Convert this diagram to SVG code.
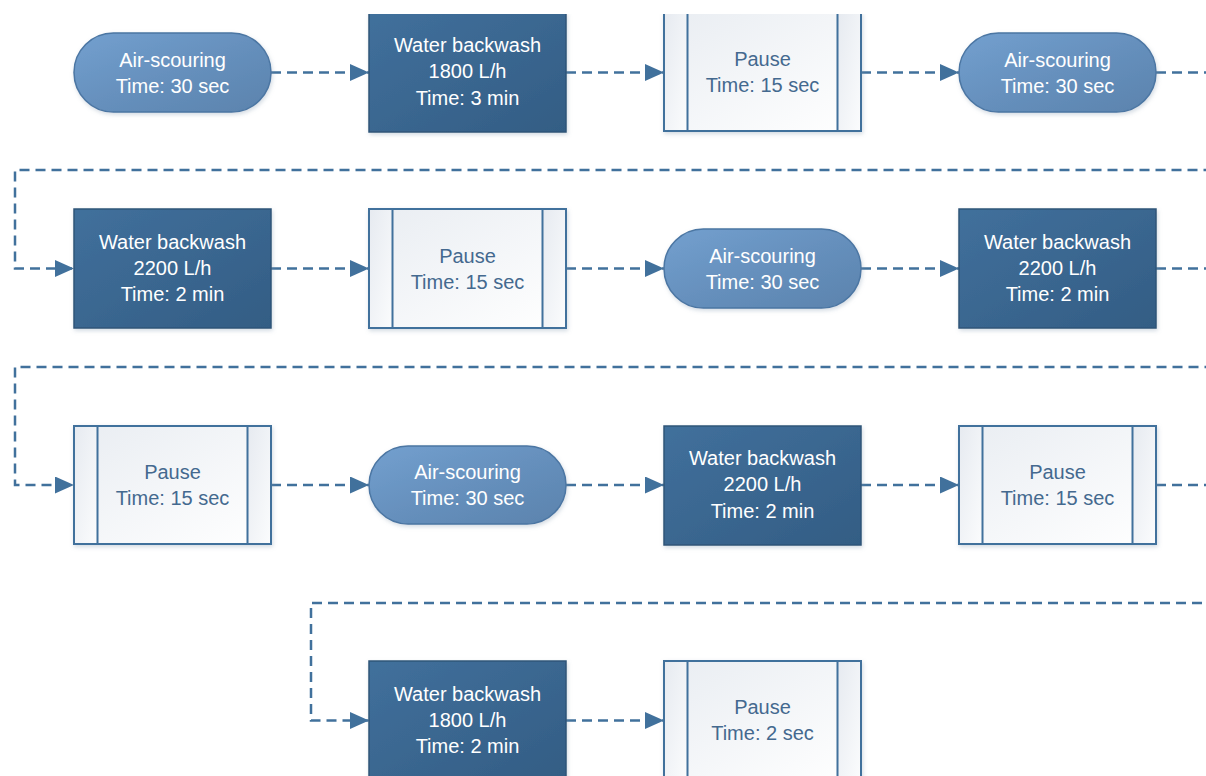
<svg xmlns="http://www.w3.org/2000/svg" width="1206" height="776" viewBox="0 0 1206 776">
<style>
.t{font-family:"Liberation Sans",Arial,sans-serif;font-size:20px;text-anchor:middle}
.w{fill:#ffffff}
.b{fill:#44698f}
.water{fill:url(#gWater);stroke:#2e5578;stroke-width:1.5;filter:url(#sh)}
.air{fill:url(#gAir);stroke:#4b76a3;stroke-width:1.5;filter:url(#sh)}
.pause{fill:url(#gPause);stroke:#41719c;stroke-width:2;filter:url(#sh)}
.bar{fill:url(#gBar);stroke:#41719c;stroke-width:2}
.con{fill:none;stroke:#41719c;stroke-width:2.5;stroke-dasharray:10 6}
</style>
<defs>
<linearGradient id="gWater" x1="0" y1="0" x2="1" y2="1">
<stop offset="0" stop-color="#41709c"/><stop offset="1" stop-color="#335d84"/>
</linearGradient>
<linearGradient id="gAir" x1="0" y1="0" x2="1" y2="1">
<stop offset="0" stop-color="#73a0cf"/><stop offset="0.5" stop-color="#6690bd"/><stop offset="1" stop-color="#5b83ad"/>
</linearGradient>
<linearGradient id="gPause" x1="0" y1="0" x2="1" y2="1">
<stop offset="0" stop-color="#e9edf2"/><stop offset="1" stop-color="#ffffff"/>
</linearGradient>
<linearGradient id="gBar" x1="0" y1="0" x2="1" y2="1">
<stop offset="0" stop-color="#e6eaf0"/><stop offset="1" stop-color="#fbfcfd"/>
</linearGradient>
<filter id="sh" x="-10%" y="-10%" width="125%" height="130%">
<feDropShadow dx="1" dy="2" stdDeviation="2" flood-color="#7f95ad" flood-opacity="0.35"/>
</filter>
<marker id="arr" viewBox="0 0 19 17" refX="19" refY="8.5" markerWidth="19" markerHeight="17" markerUnits="userSpaceOnUse" orient="auto">
<path d="M0,0 L19,8.5 L0,17 Z" fill="#41719c"/>
</marker>
<clipPath id="crop"><rect x="0" y="14" width="1206" height="762"/></clipPath>
</defs>
<g clip-path="url(#crop)">
<g id="connectors">
<path class="con" d="M271,72.5 H369" marker-end="url(#arr)"/>
<path class="con" d="M566,72.5 H664" marker-end="url(#arr)"/>
<path class="con" d="M861,72.5 H959" marker-end="url(#arr)"/>
<path class="con" d="M1156,72.5 H1240 V170 H15 V268.5 H74" marker-end="url(#arr)"/>
<path class="con" d="M271,268.5 H369" marker-end="url(#arr)"/>
<path class="con" d="M566,268.5 H664" marker-end="url(#arr)"/>
<path class="con" d="M861,268.5 H959" marker-end="url(#arr)"/>
<path class="con" d="M1156,268.5 H1240 V367 H15 V485 H74" marker-end="url(#arr)"/>
<path class="con" d="M271,485 H369" marker-end="url(#arr)"/>
<path class="con" d="M566,485 H664" marker-end="url(#arr)"/>
<path class="con" d="M861,485 H959" marker-end="url(#arr)"/>
<path class="con" d="M1156,485 H1240 V603 H311 V720.5 H369" marker-end="url(#arr)"/>
<path class="con" d="M566,720.5 H664" marker-end="url(#arr)"/>
</g>

<g id="n1">
<rect class="air" x="74" y="33" width="197" height="79" rx="39.5"/>
<text class="t w" x="172.5" y="66.5">Air-scouring</text>
<text class="t w" x="172.5" y="92.5">Time: 30 sec</text>
</g>
<g id="n2">
<rect class="water" x="369" y="13" width="197" height="119"/>
<text class="t w" x="467.5" y="52">Water backwash</text>
<text class="t w" x="467.5" y="78">1800 L/h</text>
<text class="t w" x="467.5" y="104.5">Time: 3 min</text>
</g>
<g id="n3">
<rect class="pause" x="664" y="13" width="197" height="118"/>
<rect class="bar" x="664" y="13" width="23.5" height="118"/>
<rect class="bar" x="837.5" y="13" width="23.5" height="118"/>
<text class="t b" x="762.5" y="66">Pause</text>
<text class="t b" x="762.5" y="92">Time: 15 sec</text>
</g>
<g id="n4">
<rect class="air" x="959" y="33" width="197" height="79" rx="39.5"/>
<text class="t w" x="1057.5" y="66.5">Air-scouring</text>
<text class="t w" x="1057.5" y="92.5">Time: 30 sec</text>
</g>

<g id="n5">
<rect class="water" x="74" y="209" width="197" height="119"/>
<text class="t w" x="172.5" y="248.5">Water backwash</text>
<text class="t w" x="172.5" y="274.5">2200 L/h</text>
<text class="t w" x="172.5" y="301">Time: 2 min</text>
</g>
<g id="n6">
<rect class="pause" x="369" y="209" width="197" height="119"/>
<rect class="bar" x="369" y="209" width="23.5" height="119"/>
<rect class="bar" x="542.5" y="209" width="23.5" height="119"/>
<text class="t b" x="467.5" y="262.5">Pause</text>
<text class="t b" x="467.5" y="288.5">Time: 15 sec</text>
</g>
<g id="n7">
<rect class="air" x="664" y="229" width="197" height="79" rx="39.5"/>
<text class="t w" x="762.5" y="262.5">Air-scouring</text>
<text class="t w" x="762.5" y="288.5">Time: 30 sec</text>
</g>
<g id="n8">
<rect class="water" x="959" y="209" width="197" height="119"/>
<text class="t w" x="1057.5" y="248.5">Water backwash</text>
<text class="t w" x="1057.5" y="274.5">2200 L/h</text>
<text class="t w" x="1057.5" y="301">Time: 2 min</text>
</g>

<g id="n9">
<rect class="pause" x="74" y="426" width="197" height="118"/>
<rect class="bar" x="74" y="426" width="23.5" height="118"/>
<rect class="bar" x="247.5" y="426" width="23.5" height="118"/>
<text class="t b" x="172.5" y="479">Pause</text>
<text class="t b" x="172.5" y="505">Time: 15 sec</text>
</g>
<g id="n10">
<rect class="air" x="369" y="446" width="197" height="78" rx="39"/>
<text class="t w" x="467.5" y="479">Air-scouring</text>
<text class="t w" x="467.5" y="505">Time: 30 sec</text>
</g>
<g id="n11">
<rect class="water" x="664" y="426" width="197" height="119"/>
<text class="t w" x="762.5" y="465">Water backwash</text>
<text class="t w" x="762.5" y="491">2200 L/h</text>
<text class="t w" x="762.5" y="517.5">Time: 2 min</text>
</g>
<g id="n12">
<rect class="pause" x="959" y="426" width="197" height="118"/>
<rect class="bar" x="959" y="426" width="23.5" height="118"/>
<rect class="bar" x="1132.5" y="426" width="23.5" height="118"/>
<text class="t b" x="1057.5" y="479">Pause</text>
<text class="t b" x="1057.5" y="505">Time: 15 sec</text>
</g>

<g id="n13">
<rect class="water" x="369" y="661" width="197" height="119"/>
<text class="t w" x="467.5" y="700.5">Water backwash</text>
<text class="t w" x="467.5" y="726.5">1800 L/h</text>
<text class="t w" x="467.5" y="753">Time: 2 min</text>
</g>
<g id="n14">
<rect class="pause" x="664" y="661" width="197" height="119"/>
<rect class="bar" x="664" y="661" width="23.5" height="119"/>
<rect class="bar" x="837.5" y="661" width="23.5" height="119"/>
<text class="t b" x="762.5" y="714">Pause</text>
<text class="t b" x="762.5" y="740">Time: 2 sec</text>
</g>
</g>
</svg>
